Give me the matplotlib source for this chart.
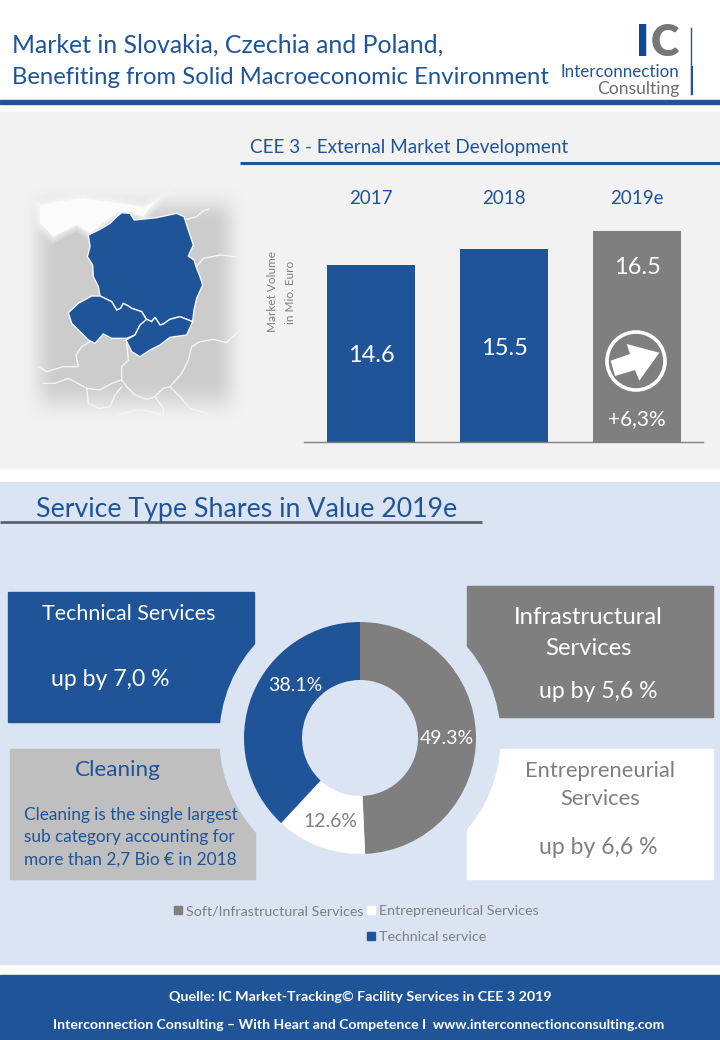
# -*- coding: utf-8 -*-
import numpy as np
import matplotlib
matplotlib.use('Agg')
import matplotlib.pyplot as plt
from matplotlib.patches import Rectangle, Circle, Polygon

plt.rcParams['font.family'] = 'Lato'

BLUE = '#1f5499'
GREY = '#7f7f7f'
PALE = '#dbe4f2'
PANEL = '#f2f2f2'

# bars
years = ['2017', '2018', '2019e']
market_volume = [14.6, 15.5, 16.5]
bar_colors = [BLUE, BLUE, GREY]

# donut
share_names = ['Soft/Infrastructural Services', 'Entrepreneurical Services', 'Technical service']
share_values = [49.3, 12.6, 38.1]
share_colors = [GREY, '#ffffff', BLUE]
share_text_colors = ['white', GREY, 'white']

# map outlines (3x, origin at y=170)
poland = [(265, 195), (300, 178), (330, 160), (350, 140), (365, 128), (390, 130), (403, 150), (470, 143),
          (530, 130), (552, 140), (565, 180), (580, 225), (565, 258), (582, 270), (590, 295), (600, 320),
          (608, 345), (590, 385), (582, 420), (578, 455), (540, 440), (510, 448), (490, 462), (480, 465),
          (465, 442), (455, 455), (440, 448), (425, 425), (395, 415), (385, 408), (370, 400), (362, 415),
          (350, 420), (335, 395), (300, 378), (295, 350), (280, 320), (278, 285), (262, 260), (270, 230)]
czechia = [(205, 428), (235, 400), (275, 378), (300, 378), (335, 395), (350, 420), (362, 415), (370, 400),
           (385, 408), (395, 415), (425, 425), (440, 450), (420, 465), (405, 495), (380, 505), (335, 505),
           (310, 492), (285, 520), (265, 510), (235, 480), (215, 460)]
slovakia = [(440, 448), (455, 455), (465, 442), (480, 465), (490, 462), (510, 448), (540, 440), (578, 455),
            (560, 495), (510, 502), (480, 525), (450, 540), (420, 560), (395, 545), (378, 510), (405, 495),
            (420, 465)]
sea = [(120, 105), (170, 95), (250, 85), (330, 95), (430, 110), (465, 95), (430, 140), (390, 125),
       (350, 130), (270, 190), (230, 165), (160, 200), (120, 160)]
other_borders = [
    [(270, 515), (245, 530), (228, 555), (235, 590), (190, 590), (140, 605), (115, 590)],
    [(380, 520), (385, 570), (365, 590), (365, 630), (335, 640), (300, 660), (260, 655), (205, 625),
     (165, 640), (130, 640)],
    [(365, 630), (380, 650), (405, 675), (440, 688), (465, 680), (490, 655), (510, 650), (545, 610),
     (565, 570), (575, 530), (600, 515), (640, 508), (680, 518), (720, 480)],
    [(510, 650), (540, 680), (570, 715), (620, 730)],
    [(260, 655), (265, 700), (295, 715), (330, 710), (345, 675), (365, 650)],
    [(465, 680), (490, 715), (490, 735), (440, 722), (410, 720), (355, 735)],
    [(552, 150), (590, 140), (610, 122), (625, 118)],
    [(590, 290), (610, 265), (660, 255), (720, 262)],
]
arrow_shape = [(1082, 572), (1140, 552), (1130, 522), (1228, 548), (1168, 632), (1155, 600), (1095, 618)]


def map_xy(points):
    return [(x / 3, 170 + y / 3) for x, y in points]


def bar_crop_xy(points):
    return [(250 + x / 3, 170 + y / 3) for x, y in points]


def smooth_ramp(n, left, right):
    idx = np.arange(n)
    r = np.clip(np.minimum(idx / left, (n - 1 - idx) / right), 0, 1)
    return r * r * (3 - 2 * r)


fig = plt.figure(figsize=(7.2, 10.4), dpi=100)

# whole page in pixel coordinates
bg = fig.add_axes([0, 0, 1, 1], zorder=0)
bg.set_xlim(0, 720)
bg.set_ylim(1040, 0)
bg.axis('off')

bg.add_patch(Rectangle((0, 100), 720, 4, color=BLUE))
bg.add_patch(Rectangle((0, 112), 720, 356, color=PANEL))
bg.add_patch(Rectangle((0, 482), 720, 482, color=PALE))
bg.add_patch(Rectangle((0, 975), 720, 65, color=BLUE))

# header
bg.text(12, 45, 'Market in Slovakia, Czechia and Poland,', color=BLUE, fontsize=17.9, va='center')
bg.text(12, 78, 'Benefiting from Solid Macroeconomic Environment', color=BLUE, fontsize=17.2, va='center')
bg.text(636, 43, 'I', color='#0f4a96', fontsize=31, fontweight='black', va='center')
bg.text(651, 43, 'C', color='#777777', fontsize=31, fontweight='black', va='center')
bg.text(679, 72, 'Interconnection', color=BLUE, fontsize=12.2, ha='right', va='center')
bg.text(679, 89, 'Consulting', color='#6d6d6d', fontsize=12.6, ha='right', va='center')
bg.plot([691, 691], [28, 94], color=BLUE, lw=1)
bg.plot([692, 692], [67, 94], color=BLUE, lw=1.5)

# vignette behind the map
ny, nx = 240, 226
vignette = np.zeros((ny, nx, 4))
vignette[..., :3] = 0.8
vignette[..., 3] = np.outer(smooth_ramp(ny, 40, 45), smooth_ramp(nx, 35, 35))
bg.imshow(vignette, extent=(22, 248, 425, 185), aspect='auto', zorder=1)
bg.set_xlim(0, 720)
bg.set_ylim(1040, 0)

# soft edge for the sea, wider strokes first
for lw, alpha in [(9, 0.2), (6, 0.25), (3, 0.35)]:
    bg.add_patch(Polygon(map_xy(sea), facecolor='none', edgecolor='#fbfbfb', lw=lw, alpha=alpha, zorder=2))
bg.add_patch(Polygon(map_xy(sea), color='#fbfbfb', zorder=2, lw=0))
for line in other_borders:
    xy = np.array(map_xy(line))
    bg.plot(xy[:, 0], xy[:, 1], color='#f4f4f4', lw=1.0, zorder=2)
for shape in (poland, czechia, slovakia):
    bg.add_patch(Polygon(map_xy(shape), facecolor=BLUE, edgecolor='#f4f8fc', lw=1.0, zorder=3))

# market section
bg.text(250, 148, 'CEE 3 - External Market Development', color=BLUE, fontsize=13.6, va='center')
bg.plot([240, 720], [163, 163], color=BLUE, lw=2.2, solid_capstyle='butt')
bg.text(273, 292, 'Market Volume', color=GREY, fontsize=8.5, rotation=90, ha='center', va='center')
bg.text(290, 292, 'in Mio. Euro', color=GREY, fontsize=8.5, rotation=90, ha='center', va='center')

# value axis doesn't start at zero in the original
ax = fig.add_axes([304 / 720, 1 - 442 / 1040, 399 / 720, 211 / 1040], zorder=1)
ax.patch.set_alpha(0)
bars = ax.bar(years, market_volume, width=0.662, color=bar_colors)
ax.set_xlim(-0.504, 2.496)
ax.set_ylim(4.71, 16.5)
for side in ('top', 'left', 'right'):
    ax.spines[side].set_visible(False)
ax.spines['bottom'].set_color(GREY)
ax.spines['bottom'].set_linewidth(1)
ax.set_yticks([])
ax.xaxis.tick_top()
ax.tick_params(axis='x', length=0, pad=17.5, colors=BLUE, labelsize=13.5)
bar_texts = ax.bar_label(bars, fmt='%.1f', label_type='center', color='white', fontsize=17)
bar_texts[0].xyann = (0, -1.5)
bar_texts[1].xyann = (0, -2)
bar_texts[2].xyann = (0, 49.5)

# arrow and growth figure sit on top of the forecast bar
fg = fig.add_axes([0, 0, 1, 1], zorder=2)
fg.set_xlim(0, 720)
fg.set_ylim(1040, 0)
fg.axis('off')
fg.add_patch(Circle((636, 361), 29, facecolor='none', edgecolor='white', lw=2.6))
fg.add_patch(Polygon(bar_crop_xy(arrow_shape), color='white', lw=0))
fg.text(637, 419, '+6,3%', color='white', fontsize=15, ha='center', va='center')

# service section
bg.text(36, 510, 'Service Type Shares in Value 2019e', color=BLUE, fontsize=19.3, va='center')
bg.plot([0, 482], [521.5, 521.5], color='#5a6270', lw=2, solid_capstyle='butt')

bg.add_patch(Rectangle((8, 592), 246, 130, color=BLUE, zorder=1))
bg.add_patch(Rectangle((467, 586), 246, 131, color=GREY, zorder=1))
bg.add_patch(Rectangle((10, 749), 245, 130, color='#bfbfbf', zorder=1))
bg.add_patch(Rectangle((467, 749), 246, 130, color='white', zorder=1))
bg.add_patch(Circle((360, 738), 140, color=PALE, zorder=2))

bg.text(129, 614, 'Technical Services', color='white', fontsize=15.5, ha='center', va='center')
bg.text(110, 679, 'up by 7,0 %', color='white', fontsize=16.6, ha='center', va='center')
bg.text(588, 633, 'Infrastructural\nServices', color='white', fontsize=17.2, ha='center', va='center', linespacing=1.55)
bg.text(598, 692, 'up by 5,6 %', color='white', fontsize=16.6, ha='center', va='center')
bg.text(118, 770, 'Cleaning', color=BLUE, fontsize=16.2, ha='center', va='center')
bg.text(24, 837, 'Cleaning is the single largest\nsub category accounting for\nmore than 2,7 Bio € in 2018',
        color=BLUE, fontsize=12.4, va='center', linespacing=1.49)
bg.text(600, 785, 'Entrepreneurial\nServices', color=GREY, fontsize=15.8, ha='center', va='center', linespacing=1.5)
bg.text(598, 847, 'up by 6,6 %', color=GREY, fontsize=16.6, ha='center', va='center')

# donut
dax = fig.add_axes([244 / 720, 1 - 854 / 1040, 232 / 720, 232 / 1040], zorder=1)
wedges, _, pcts = dax.pie(share_values, colors=share_colors, startangle=90, counterclock=False,
                          radius=1, wedgeprops={'width': 0.5}, autopct='%.1f%%', pctdistance=0.75,
                          textprops={'fontsize': 14})
for t, c in zip(pcts, share_text_colors):
    t.set_color(c)
pcts[2].set_position((-0.56, 0.47))
for t in pcts:
    px, py = t.get_position()
    t.set_position((px, py - 0.02))
dax.set_xlim(-1, 1)
dax.set_ylim(-1, 1)

# legend
legend_pos = [(178, 910), (371, 910), (371, 936)]
for (x, y), name, color in zip(legend_pos, share_names, share_colors):
    bg.plot(x, y, 's', color=color, ms=5.5, zorder=3)
    bg.text(x + 8, y + 1, name, color=GREY, fontsize=10.3, va='center', zorder=3)

# footer
bg.text(360, 997, 'Quelle: IC Market-Tracking© Facility Services in CEE 3 2019', color='white',
        fontsize=10.3, fontweight='bold', ha='center', va='center')
bg.text(359, 1025, 'Interconnection Consulting – With Heart and Competence I  www.interconnectionconsulting.com',
        color='white', fontsize=10.1, fontweight='bold', ha='center', va='center')

fig.savefig('out.png', dpi=100)
